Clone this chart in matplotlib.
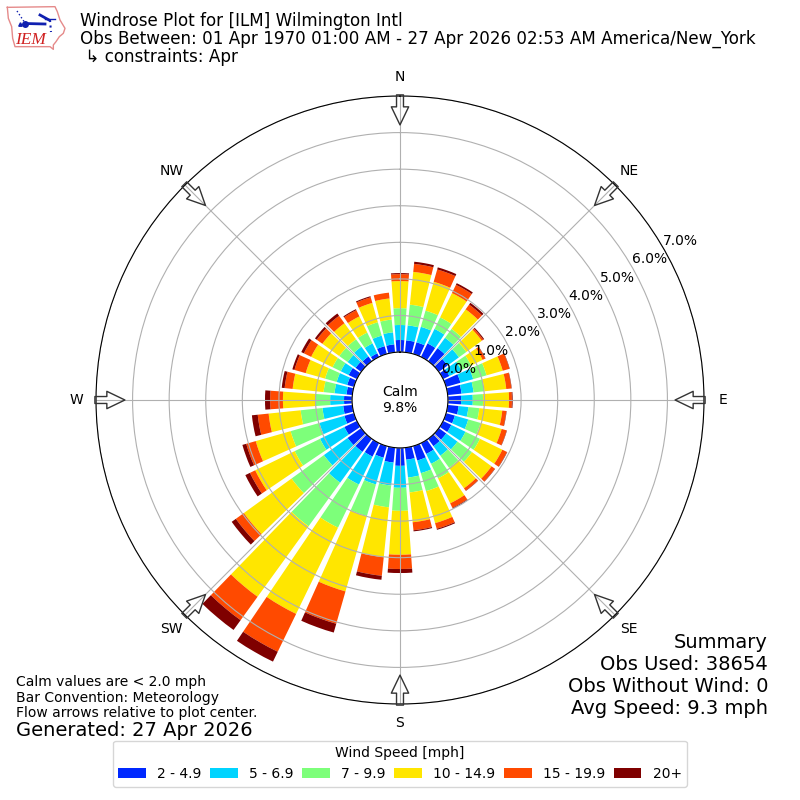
import matplotlib
matplotlib.use('Agg')
import matplotlib.pyplot as plt
import numpy as np

directions = np.arange(10, 370, 10)

# cumulative percent of obs at the top of each speed bin, per direction
upto_5 = [.33,.33,.41,.44,.30,.19,.41,.38,.36,.30,.25,.25,.25,.25,.33,.41,.33,.49,
          .41,.33,.41,.44,.46,.38,.27,.25,.22,.16,.19,.25,.19,.16,.11,.22,.22,.33]
upto_7 = [.74,.77,.85,.79,.68,.55,.77,.71,.68,.57,.63,.68,.63,.57,.63,.77,.82,1.09,
          1.04,1.09,1.26,1.48,1.26,1.12,.98,.82,.60,.49,.49,.49,.46,.49,.41,.52,.55,.74]
upto_10 = [1.31,1.23,1.20,1.09,.93,.85,1.15,1.01,.96,.87,.98,1.12,1.12,.98,1.07,1.28,1.23,1.72,
           1.64,1.99,2.57,2.95,2.35,1.89,1.80,1.42,1.01,.79,.82,.74,.74,.74,.74,.90,.90,1.20]
upto_15 = [2.21,2.05,1.94,1.75,1.45,1.20,1.61,1.61,1.67,1.50,1.58,1.80,1.78,1.67,1.83,2.19,2.05,2.92,
           3.01,4.13,5.19,5.33,3.96,3.09,2.79,2.30,1.89,1.64,1.37,1.39,1.31,1.28,1.23,1.45,1.48,1.94]
upto_20 = [2.43,2.40,2.19,1.91,1.50,1.28,1.80,1.75,1.75,1.61,1.72,1.94,1.89,1.75,1.97,2.35,2.27,3.31,
           3.52,5.05,6.34,6.12,4.23,3.25,3.06,2.60,2.24,1.86,1.69,1.61,1.50,1.53,1.42,1.61,1.64,2.13]
upto_all = [2.49,2.46,2.24,1.97,1.53,1.29,1.81,1.76,1.77,1.62,1.73,1.95,1.90,1.76,1.99,2.38,2.30,3.42,
            3.63,5.30,6.64,6.45,4.37,3.39,3.17,2.76,2.38,1.94,1.75,1.69,1.56,1.61,1.45,1.64,1.64,2.16]

bins = [upto_5, upto_7, upto_10, upto_15, upto_20, upto_all]
bin_labels = ['2 - 4.9', '5 - 6.9', '7 - 9.9', '10 - 14.9', '15 - 19.9', '20+']
bin_colors = ['#0028ff', '#00d4ff', '#7dff7a', '#ffe600', '#ff4a00', '#7f0000']

compass = ['N', 'NE', 'E', 'SE', 'S', 'SW', 'W', 'NW']
compass_deg = [0, 45, 90, 135, 180, 225, 270, 315]
rings = [0, 1, 2, 3, 4, 5, 6, 7]

fig = plt.figure(figsize=(8, 8), dpi=100)
ax = fig.add_axes([0.12, 0.12, 0.76, 0.76], projection='polar')
ax.set_theta_zero_location('N')
ax.set_theta_direction(-1)

theta = np.radians(directions)
bottom = np.zeros(len(directions))
for vals, label, color in zip(bins, bin_labels, bin_colors):
    vals = np.array(vals)
    ax.bar(theta, vals - bottom, width=np.radians(8.2), bottom=bottom,
           color=color, label=label, linewidth=0)
    bottom = vals

ax.set_rorigin(-1.31)
ax.set_rlim(0, 7)
ax.set_rticks(rings)
ax.set_yticklabels(['%.1f%%' % r for r in rings], fontsize=10)
ax.set_rlabel_position(60)
ax.set_thetagrids(compass_deg, compass, fontsize=10)
ax.tick_params(axis='x', pad=3.5)

for d in compass_deg:
    ax.annotate('', xy=(np.radians(d), 6.21), xytext=(np.radians(d), 7.03),
                arrowprops=dict(facecolor='none', edgecolor='#333333', width=5,
                                headwidth=12.5, headlength=13, shrink=0, linewidth=1),
                annotation_clip=False)

ax.text(0, -1.31, 'Calm\n9.8%', ha='center', va='center', fontsize=10)

handles, labels = ax.get_legend_handles_labels()
fig.legend(handles, labels, title='Wind Speed [mph]', ncol=6, fontsize=10,
           title_fontsize=10, loc='lower center', bbox_to_anchor=(0.5, 0.008),
           columnspacing=0.62)

fig.text(0.1, 0.9845, 'Windrose Plot for [ILM] Wilmington Intl\n'
         'Obs Between: 01 Apr 1970 01:00 AM - 27 Apr 2026 02:53 AM America/New_York\n'
         ' \u21b3 constraints: Apr', va='top', fontsize=12.02, linespacing=0.98)

fig.text(0.02, 0.0995, 'Calm values are < 2.0 mph\nBar Convention: Meteorology\n'
         'Flow arrows relative to plot center.', va='bottom', fontsize=10, linespacing=1.15)
fig.text(0.02, 0.0868, 'Generated: 27 Apr 2026', va='center', fontsize=14)
fig.text(0.96, 0.103, 'Summary\nObs Used: 38654\nObs Without Wind: 0\nAvg Speed: 9.3 mph',
         ha='right', va='bottom', fontsize=14, linespacing=1.2)

# rough copy of the IEM logo, in pixel space
logo = fig.add_axes([0, 0, 1, 1], zorder=-1)
logo.set_xlim(0, 800)
logo.set_ylim(800, 0)
logo.axis('off')
outline_x = np.array([22,165,172,180,195,190,178,168,160,160,150,45,38,35,25,22]) / 3
outline_y = np.array([22,20,35,60,85,100,110,125,135,148,140,140,115,80,55,22]) / 3
logo.plot(outline_x, outline_y, color='#e58a8a', lw=1)
logo.plot([25, 45], [23.5, 24], color='#1020b0', lw=2)
logo.plot([17, 25], [11, 23], color='#1020b0', lw=1, ls=':')
logo.plot([25], [23.5], 'o', color='#1020b0', ms=4)
logo.plot([20], [24], '^', color='#1020b0', ms=2.5)
logo.plot([40, 49], [15, 20], color='#1020b0', lw=2)
logo.plot([45, 55], [19, 19], color='#1020b0', lw=1)
logo.plot([50, 51], [20, 32], color='#1020b0', lw=1.5, ls=':')
logo.text(30.5, 44, 'IEM', family='Liberation Serif', style='italic', color='#d02020',
          fontsize=12.5, ha='center', va='baseline')

fig.savefig('out.png', dpi=100)
